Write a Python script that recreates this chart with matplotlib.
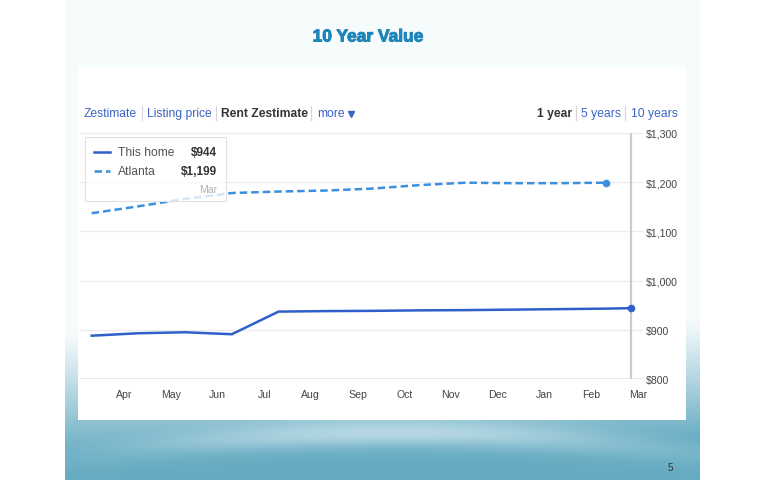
import numpy as np
import matplotlib
matplotlib.use("Agg")
import matplotlib.pyplot as plt
from matplotlib.patches import Rectangle
import matplotlib.patheffects as pe

# data: month positions (0 = Apr) and rent values
months = ["Apr", "May", "Jun", "Jul", "Aug", "Sep", "Oct", "Nov", "Dec", "Jan", "Feb", "Mar"]
home_x = [-0.69, 0.31, 1.31, 2.31, 3.31, 4.31, 5.31, 6.31, 7.31, 8.31, 9.31, 10.31, 10.86]
home_y = [888, 893, 895, 891, 937, 938, 938.5, 939.5, 940, 941, 942, 943, 944]
atl_x = [-0.69, 0.31, 1.31, 2.31, 3.31, 4.31, 5.31, 6.31, 7.31, 8.31, 9.31, 10.31]
atl_y = [1137, 1151, 1166, 1178, 1181, 1183, 1187, 1194, 1199, 1198, 1198, 1199]
y_ticks = [800, 900, 1000, 1100, 1200, 1300]
y_labels = ["$800", "$900", "$1,000", "$1,100", "$1,200", "$1,300"]
cursor_x = 10.86

HOME_C = "#2f5fcb"
ATL_C = "#3a8fde"
LINK_C = "#3b64c4"
FONT = "Liberation Sans"

fig = plt.figure(figsize=(7.7, 4.81), dpi=100)

# ---- slide background (pixel coords)
bg = fig.add_axes([0, 0, 1, 1])
bg.set_xlim(0, 770)
bg.set_ylim(481, 0)
bg.axis("off")

xs = np.arange(65, 700) + 0.5
ys = np.arange(481) + 0.5
X, Y = np.meshgrid(xs, ys)
u = (X - 65) / 635
top = np.array([0.965, 0.985, 0.99])
teal = np.array([0.40, 0.67, 0.76])
y0 = 335 - 15 * u
t = np.clip((Y - y0) / 120, 0, 1) ** 1.1
img = top[None, None, :] * (1 - t[..., None]) + teal[None, None, :] * t[..., None]
# light swoosh under the panel
band = np.exp(-((Y - (434 + 0.00022 * (X - 400) ** 2)) / 14) ** 2) * np.exp(-((X - 400) / 250) ** 2)
light = np.array([0.84, 0.92, 0.945])
img = img * (1 - 0.65 * band[..., None]) + light[None, None, :] * 0.65 * band[..., None]
bg.imshow(img, extent=(65, 700, 481, 0), aspect="auto", zorder=0, interpolation="bilinear")

bg.add_patch(Rectangle((78, 68), 608, 353, facecolor="white", edgecolor="none", zorder=1))

bg.text(368, 38, "10 Year Value", ha="center", va="center", fontsize=12.5, fontweight="bold",
        color="#1a87bd", family=["Liberation Sans Narrow", FONT],
        path_effects=[pe.withStroke(linewidth=0.7, foreground="#2a7eb0")], zorder=3)
bg.text(670, 468, "5", ha="center", va="center", fontsize=7, color="#333333", family=FONT, zorder=3)

# ---- header links
header_y = 114
items = [(84, "Zestimate", LINK_C, "normal"), (147, "Listing price", LINK_C, "normal"),
         (221, "Rent Zestimate", "#333333", "bold"), (317, "more", LINK_C, "normal"),
         (537, "1 year", "#333333", "bold"), (581, "5 years", LINK_C, "normal"),
         (631, "10 years", LINK_C, "normal")]
for x, s, c, w in items:
    bg.text(x, header_y, s, ha="left", va="center", fontsize=8.7, color=c, fontweight=w,
            family=FONT, zorder=3)
for sx in [142, 216, 311, 576, 625]:
    bg.plot([sx, sx], [107, 121], color="#d6d6d6", lw=0.8, zorder=3)
bg.plot([351], [115], marker="v", color=LINK_C, markersize=4, zorder=3)

# ---- chart
L, R, T, B = 80, 643, 134, 380
ax = fig.add_axes([L / 770, (481 - B) / 481, (R - L) / 770, (B - T) / 481])
ax.set_facecolor("none")
ax.set_xlim(-0.94, 11.11)
ax.set_ylim(800, 1300)
for s in ax.spines.values():
    s.set_visible(False)
ax.yaxis.tick_right()
ax.set_yticks(y_ticks)
ax.set_yticklabels(y_labels)
ax.set_xticks(range(len(months)))
ax.set_xticklabels(months)
ax.tick_params(axis="both", length=0, labelsize=7.6, labelcolor="#444444")
ax.tick_params(axis="y", pad=2)
ax.tick_params(axis="x", pad=7)
for lab in ax.get_xticklabels() + ax.get_yticklabels():
    lab.set_family(FONT)
ax.yaxis.grid(True, color="#ececec", lw=0.9)
ax.axhline(800, color="#e2e2e2", lw=1.2, zorder=1)
ax.set_axisbelow(True)

ax.axvline(cursor_x, color="#cbcbcb", lw=1.6, zorder=2)
ax.plot(atl_x, atl_y, color=ATL_C, lw=1.8, dashes=(3, 1.6), zorder=3)
ax.plot(atl_x[-1], atl_y[-1], "o", color=ATL_C, markersize=4.5, zorder=4)
ax.plot(home_x, home_y, color=HOME_C, lw=1.8, zorder=3)
ax.plot(home_x[-1], home_y[-1], "o", color=HOME_C, markersize=4.5, zorder=4)

# ---- legend / tooltip overlay
ov = fig.add_axes([0, 0, 1, 1], zorder=5)
ov.set_facecolor("none")
ov.set_xlim(0, 770)
ov.set_ylim(481, 0)
ov.axis("off")
ov.add_patch(Rectangle((85, 138), 141, 64, facecolor=(1, 1, 1, 0.78), edgecolor="#e2e2e2", lw=0.8))
ov.plot([94, 110], [153, 153], color=HOME_C, lw=1.8)
ov.plot([94, 110], [172, 172], color=ATL_C, lw=1.8, dashes=(3, 1.6))
ov.text(118, 153, "This home", ha="left", va="center", fontsize=8.7, color="#555555", family=FONT)
ov.text(118, 172, "Atlanta", ha="left", va="center", fontsize=8.7, color="#555555", family=FONT)
ov.text(217, 153, "$%d" % home_y[-1], ha="right", va="center", fontsize=8.5, color="#333333",
        fontweight="bold", family=FONT)
ov.text(217, 172, "${:,}".format(atl_y[-1]), ha="right", va="center", fontsize=8.5, color="#333333",
        fontweight="bold", family=FONT)
ov.text(217, 190, "Mar", ha="right", va="center", fontsize=7.5, color="#b0b0b0", family=FONT)

fig.savefig("out.png", dpi=100)
